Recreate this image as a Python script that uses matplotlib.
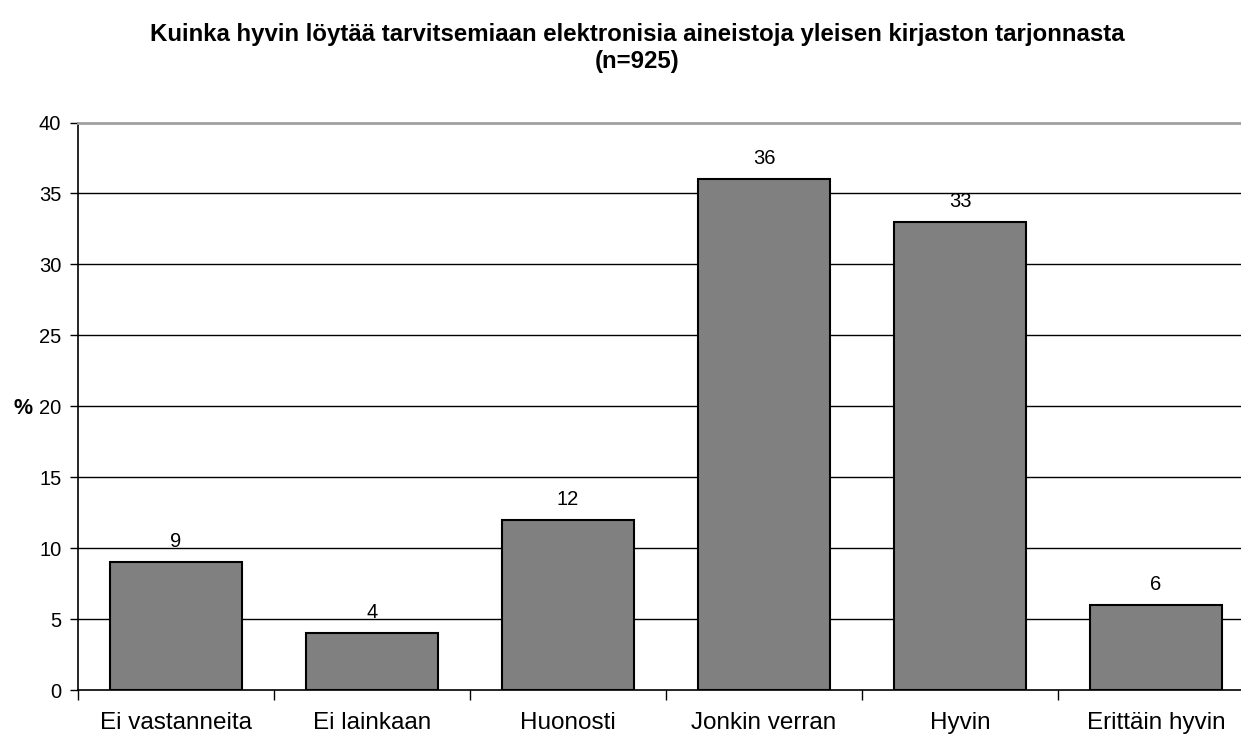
import matplotlib
matplotlib.use("Agg")
import matplotlib.pyplot as plt
import numpy as np

plt.rcParams['font.family'] = ['Liberation Sans', 'DejaVu Sans']

categories = ["Ei vastanneita", "Ei lainkaan", "Huonosti", "Jonkin verran", "Hyvin", "Erittäin hyvin"]
values = [9, 4, 12, 36, 33, 6]
yticks = [0, 5, 10, 15, 20, 25, 30, 35, 40]
title = "Kuinka hyvin löytää tarvitsemiaan elektronisia aineistoja yleisen kirjaston tarjonnasta\n(n=925)"

W, H = 1241, 736
fig = plt.figure(figsize=(W / 100, H / 100), dpi=100)
ax = fig.add_axes([78 / W, (H - 690) / H, 1176 / W, (690 - 122.5) / H])

x = np.arange(len(categories))
bars = ax.bar(x, values, width=0.67, color="#808080", edgecolor="black", linewidth=1.5, zorder=3)

ax.set_xlim(-0.5, len(categories) - 0.5)
ax.set_ylim(0, 40)
ax.set_yticks(yticks)
ax.set_yticklabels([str(t) for t in yticks], fontsize=14.5)
for t in yticks[1:-1]:
    ax.axhline(t, color="black", linewidth=1.0, zorder=1)

# category labels centred, tick marks at boundaries
ax.set_xticks(x)
ax.set_xticklabels(categories, fontsize=17.5)
ax.tick_params(axis='x', length=0, pad=16)
ax.set_xticks(np.arange(len(categories) + 1) - 0.5, minor=True)
ax.tick_params(axis='x', which='minor', length=7, width=1, direction='out', color='black')
ax.tick_params(axis='y', length=6, width=1, pad=6, direction='out')

for s in ['left', 'bottom']:
    ax.spines[s].set_color('black')
    ax.spines[s].set_linewidth(1.2)
ax.spines['top'].set_color('#a0a0a0')
ax.spines['top'].set_linewidth(2)
ax.spines['right'].set_visible(False)

for xi, v in zip(x, values):
    ax.annotate(str(v), (xi, v), xytext=(0, 8), textcoords='offset points',
                ha='center', va='bottom', fontsize=14.5, zorder=4)

fig.text(33 / W, 1 - 408 / H, "%", fontsize=15.5, fontweight='bold', ha='right', va='center')
fig.text(637 / W, 1 - 48 / H, title, fontsize=17.3, fontweight='bold', ha='center', va='center',
         linespacing=1.2)

fig.savefig("out.png", dpi=100)
